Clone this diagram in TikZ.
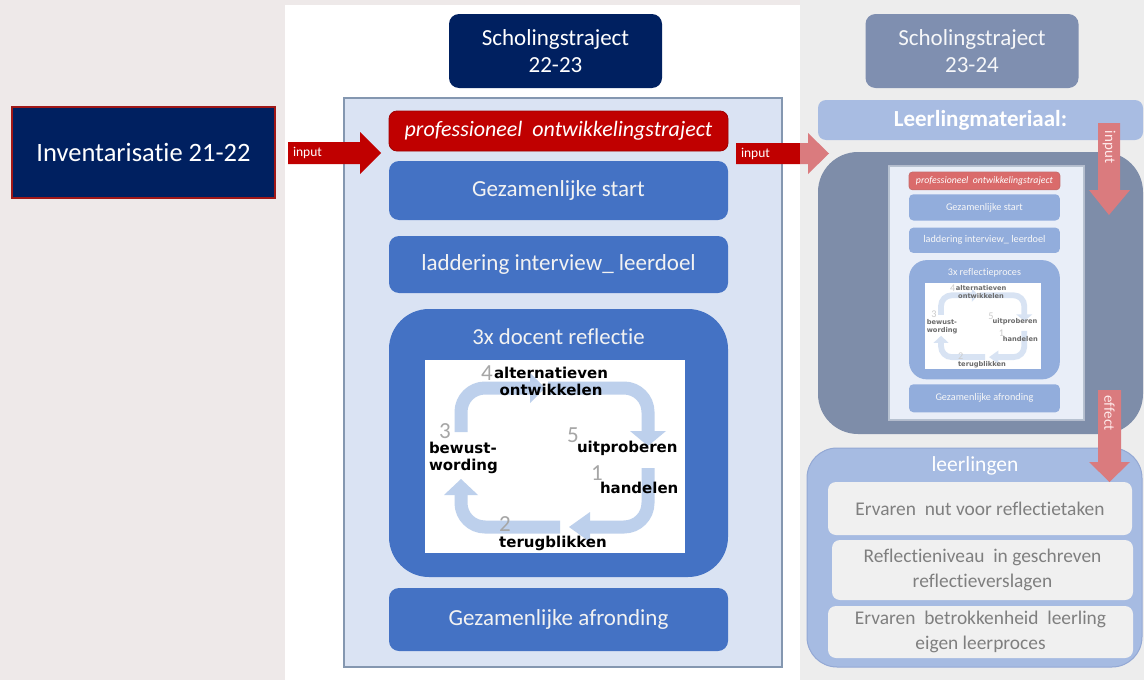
\documentclass[tikz,border=0pt]{standalone}
\usepackage{fontspec}
\setmainfont{Carlito}[Ligatures=CommonOff]
\newfontfamily\dejavu{DejaVu Sans}
\definecolor{navy}{HTML}{002060}
\definecolor{invborder}{HTML}{A01818}
\definecolor{bgl}{HTML}{EEE9E9}
\definecolor{bgr}{HTML}{EDEDED}
\definecolor{panelfill}{HTML}{DAE3F3}
\definecolor{panelborder}{HTML}{8497B0}
\definecolor{boxblue}{HTML}{4472C4}
\definecolor{boxtext}{HTML}{F2F2F2}
\definecolor{boxred}{HTML}{C00000}
\definecolor{boxredborder}{HTML}{A00000}
\definecolor{cycblue}{HTML}{BDD0EC}
\definecolor{numgrey}{HTML}{A6A6A6}
\definecolor{fadered}{HTML}{DA7B7E}
\definecolor{schtwo}{HTML}{7F8FB0}
\definecolor{lmfill}{HTML}{A8BCE2}
\definecolor{darkfill}{HTML}{7E8DA9}
\definecolor{llfill}{HTML}{A6BBE2}
\definecolor{llborder}{HTML}{93A8D4}
\definecolor{resfill}{HTML}{F0F0F0}
\definecolor{restext}{HTML}{7F7F7F}
\tikzset{
 every node/.style={inner sep=0pt, outer sep=0pt},
 navybox/.style={fill=navy, rounded corners=10pt, minimum width=213, minimum height=74, text=white, align=center, font=\fontsize{23}{27}\selectfont},
 invbox/.style={fill=navy, draw=invborder, line width=2pt, minimum width=263, minimum height=91, text=white, font=\fontsize{26.5}{30}\selectfont},
 panelbox/.style={fill=panelfill, draw=panelborder, line width=1.2pt, minimum width=438, minimum height=569},
 bluebox/.style={fill=boxblue, minimum width=339, text=boxtext, font=\fontsize{23}{27}\selectfont},
 redbox/.style={fill=boxred, draw=boxredborder, line width=0.8pt, minimum width=339, minimum height=40, text=white, font=\fontsize{22}{26}\selectfont\itshape},
 imgbox/.style={fill=white, minimum width=260, minimum height=193},
 cyclbl/.style={font=\dejavu\bfseries\fontsize{15}{17}\selectfont, text=black},
 cycnum/.style={font=\fontsize{23}{23}\selectfont, text=numgrey},
 inputlbl/.style={text=white, font=\fontsize{13.5}{15}\selectfont},
 vlbl/.style={text=white!92!red, font=\fontsize{15}{17}\selectfont, rotate=-90},
 resbox/.style={fill=resfill, rounded corners=8pt, text=restext, align=center, font=\fontsize{19.4}{25}\selectfont},
}
% #1 prefix, #2 title, #3 scale factor for line widths and corners
\newcommand\stackdiagram[3]{%
 \pgfmathsetmacro\cornS{8*#3}%
 \pgfmathsetmacro\cornM{10*#3}%
 \pgfmathsetmacro\cornL{40*#3}%
 \pgfmathsetmacro\cornC{24*#3}%
 \pgfmathsetmacro\cycw{13*#3}%
 \node[panelbox] (#1panel) at (563,-382.5) {};
 \node[redbox, rounded corners=\cornS pt] (#1prof) at (558.5,-131) {professioneel\ \ ontwikkelingstraject};
 \node[bluebox, rounded corners=\cornM pt, minimum height=59] (#1start) at (558.5,-190.5) {Gezamenlijke start};
 \node[bluebox, rounded corners=\cornM pt, minimum height=57] (#1ladder) at (558.5,-264.5) {laddering interview\_ leerdoel};
 \node[bluebox, rounded corners=\cornL pt, minimum height=268] (#1refl) at (558.5,-443) {};
 \node[text=boxtext, font=\fontsize{22.8}{26}\selectfont] (#1refltitle) at (558.5,-337) {#2};
 \node[imgbox] (#1img) at (555,-456.5) {};
 \begin{scope}[draw=cycblue, fill=cycblue, line width=\cycw pt, rounded corners=\cornC pt]
  \draw (461,-432) -- (461,-388) -- (531,-388);
  \draw (548,-388) -- (648,-388) -- (648,-432);
  \draw (648,-468) -- (648,-527) -- (589,-527);
  \draw (560,-527) -- (461,-527) -- (461,-494);
 \end{scope}
 \fill[cycblue] (530,-373) -- (545,-388) -- (530,-403) -- cycle;
 \fill[cycblue] (630,-431) -- (666,-431) -- (648,-446) -- cycle;
 \fill[cycblue] (590,-512) -- (590,-542) -- (569,-527) -- cycle;
 \fill[cycblue] (444,-495) -- (478,-495) -- (461,-479) -- cycle;
 \node[cycnum] (#1nfour) at (487,-373) {4};
 \node[cycnum] (#1nthree) at (445,-431) {3};
 \node[cycnum] (#1nfive) at (573,-435) {5};
 \node[cycnum] (#1none) at (597,-473) {1};
 \node[cycnum] (#1ntwo) at (505,-524) {2};
 \node[cyclbl, align=center] (#1alt) at (551,-381) {alternatieven\\ontwikkelen};
 \node[cyclbl, align=left, anchor=west] (#1bew) at (429,-458) {bewust-\\wording};
 \node[cyclbl, anchor=base west] (#1uit) at (577,-452) {uitproberen};
 \node[cyclbl, anchor=base west] (#1hand) at (600,-493) {handelen};
 \node[cyclbl, anchor=base] (#1terug) at (553,-547) {terugblikken};
 \node[bluebox, rounded corners=\cornM pt, minimum height=63] (#1afr) at (558.5,-619.5) {Gezamenlijke afronding};
}
\begin{document}
\begin{tikzpicture}[x=1pt,y=1pt]
\useasboundingbox (0,0) rectangle (1144,-680);
\fill[bgl] (0,0) rectangle (1144,-680);
\fill[white] (285,-5) rectangle (800,-680);
\fill[bgr] (800,0) rectangle (1144,-680);

% left
\node[invbox] (inv) at (143.5,-152.5) {Inventarisatie 21-22};

% center
\node[navybox] (schone) at (555.5,-51) {Scholingstraject\\22-23};
\stackdiagram{c}{3x docent reflectie}{1}

% arrow 1
\fill[boxred] (288,-142) -- (360,-142) -- (360,-132) -- (381,-153) -- (360,-174) -- (360,-164) -- (288,-164) -- cycle;
\node[inputlbl, anchor=west] (inone) at (293,-153) {input};

% right column
\node[navybox, fill=schtwo, text=white!93!schtwo] (schtwo) at (972,-51) {Scholingstraject\\23-24};
\node[fill=lmfill, rounded corners=8pt, minimum width=325, minimum height=40, text=white, font=\fontsize{23}{26}\selectfont\bfseries] (lm) at (980.5,-120) {Leerlingmateriaal:};
\node[fill=darkfill, rounded corners=40pt, minimum width=325, minimum height=282] (dark) at (980.5,-293) {};
\begin{scope}[shift={(909,-172)}, scale=0.445, transform shape, shift={(-389,111)}]
\stackdiagram{r}{3x reflectieproces}{0.445}
\end{scope}
\fill[white, opacity=0.42] (888,-165) rectangle (1085,-421);

% arrow 2 (crossing into faded column)
\begin{scope}
\clip (700,0) rectangle (800,-680);
\fill[boxred] (736,-143) -- (808,-143) -- (808,-133) -- (829,-153.5) -- (808,-174) -- (808,-164) -- (736,-164) -- cycle;
\end{scope}
\begin{scope}
\clip (800,0) rectangle (900,-680);
\fill[fadered] (736,-143) -- (808,-143) -- (808,-133) -- (829,-153.5) -- (808,-174) -- (808,-164) -- (736,-164) -- cycle;
\end{scope}
\node[inputlbl, anchor=west] (intwo) at (741,-154) {input};

% leerlingen
\node[fill=llfill, draw=llborder, line width=1pt, rounded corners=30pt, minimum width=335, minimum height=219] (ll) at (974.5,-557.5) {};
\node[text=white, font=\fontsize{21.5}{24}\selectfont] (lltitle) at (975,-466) {leerlingen};
\node[resbox, minimum width=304, minimum height=53] (resone) at (980,-508.5) {Ervaren\ \ nut voor reflectietaken};
\node[resbox, minimum width=301, minimum height=60] (restwo) at (982.5,-570) {Reflectieniveau\ \ in geschreven\\reflectieverslagen};
\node[resbox, minimum width=305, minimum height=52] (resthree) at (980.5,-632) {Ervaren\ \ betrokkenheid\ \ leerling\\eigen leerproces};

% vertical arrows
\fill[fadered] (1098,-123) -- (1120,-123) -- (1120,-190) -- (1130,-190) -- (1109,-215) -- (1089,-190) -- (1098,-190) -- cycle;
\node[vlbl] (inthree) at (1109,-147) {input};
\fill[fadered] (1098,-390) -- (1121,-390) -- (1121,-462) -- (1130,-462) -- (1109.5,-482) -- (1089,-462) -- (1098,-462) -- cycle;
\node[vlbl] (eff) at (1109.5,-413) {effect};
\end{tikzpicture}
\end{document}
